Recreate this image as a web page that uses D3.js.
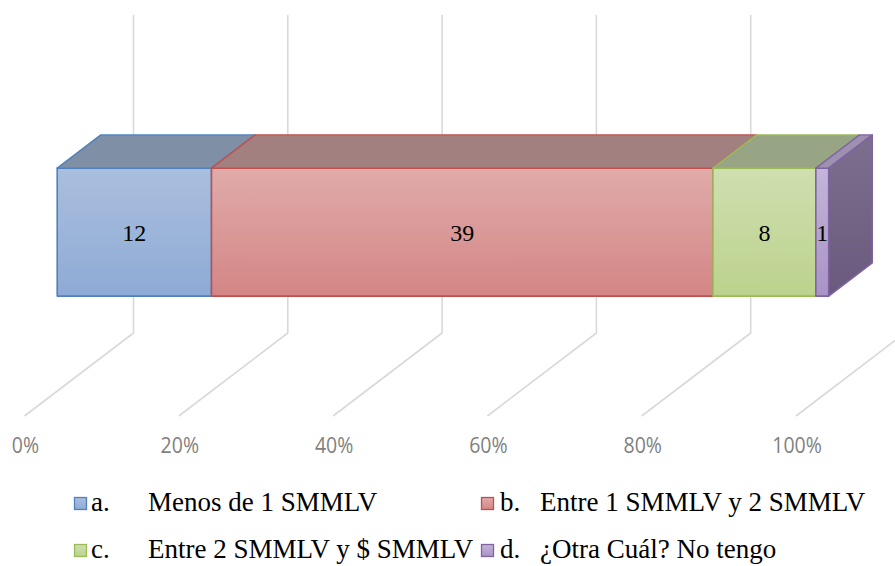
<!DOCTYPE html>
<html>
<head>
<meta charset="utf-8">
<script src="https://cdn.jsdelivr.net/npm/d3@7"></script>
<style>
  html, body { margin: 0; padding: 0; background: #fff; }
  svg { display: block; }
</style>
</head>
<body>
<svg id="chart" width="895" height="566"></svg>
<script>
// Income bracket responses, stacked to 100%
const letters = ["a.", "b.", "c.", "d."];
const categories = ["Menos de 1 SMMLV", "Entre 1 SMMLV y 2 SMMLV", "Entre 2 SMMLV y $ SMMLV", "¿Otra Cuál? No tengo"];
const values = [12, 39, 8, 1];
const tickValues = [0, 0.2, 0.4, 0.6, 0.8, 1];
const tickLabels = ["0%", "20%", "40%", "60%", "80%", "100%"];

const palette = [
  { stroke: "#4f81bd", top: "#aabfde", bottom: "#8eaad5", lid: "#7f8fa5" },
  { stroke: "#c0504d", top: "#e0abaa", bottom: "#d38685", lid: "#a28080" },
  { stroke: "#9bbb59", top: "#cfdfb0", bottom: "#bbd28d", lid: "#97a585" },
  { stroke: "#8064a2", top: "#c3b6d8", bottom: "#a893c6", lid: "#9d90b1", sideTop: "#7c6f8e", sideBottom: "#6a5a7e" }
];

const svg = d3.select("#chart");
const W = 895, H = 566;

// Oblique projection: value along x, height up, depth going back-right
const x = d3.scaleLinear().domain([0, 1]).range([24.5, 796]);
const FLOOR = 416, DX = 109, DY = 83, WALL = 318;
const P = (p, h, d) => [x(p) + d * DX, FLOOR - h - d * DY];

const defs = svg.append("defs");
defs.append("clipPath").attr("id", "clip")
  .append("rect").attr("width", W).attr("height", H);

palette.forEach((c, i) => {
  const g = defs.append("linearGradient").attr("id", "grad" + i)
    .attr("x1", 0).attr("y1", 0).attr("x2", 0).attr("y2", 1);
  g.append("stop").attr("offset", "0%").attr("stop-color", c.top);
  g.append("stop").attr("offset", "100%").attr("stop-color", c.bottom);
});
{
  const c = palette[3];
  const g = defs.append("linearGradient").attr("id", "gradSide")
    .attr("x1", 0).attr("y1", 0).attr("x2", 0).attr("y2", 1);
  g.append("stop").attr("offset", "0%").attr("stop-color", c.sideTop);
  g.append("stop").attr("offset", "100%").attr("stop-color", c.sideBottom);
}

// Gridlines: floor diagonals and back-wall verticals
const line = d3.line();
svg.append("g").attr("clip-path", "url(#clip)")
  .selectAll("path").data(tickValues).join("path")
  .attr("d", t => line([P(t, 0, 0), P(t, 0, 1), P(t, WALL, 1)]))
  .attr("fill", "none").attr("stroke", "#d9d9d9").attr("stroke-width", 1.6);

// Axis labels along the front edge of the floor
svg.append("g").selectAll("text").data(tickValues).join("text")
  .attr("transform", t => `translate(${x(t) + 1},453) scale(1,1.15)`)
  .attr("text-anchor", "middle")
  .attr("font-family", "'Open Sans', sans-serif")
  .attr("font-size", 19.5)
  .attr("fill", "#7f7f7f")
  .text((t, i) => tickLabels[i]);

// Stacked segments
const total = d3.sum(values);
const cum = d3.cumsum(values);
const segs = values.map((v, i) => ({ i, v, p0: (cum[i] - v) / total, p1: cum[i] / total }));

const D0 = 0.3, D1 = 0.7, H0 = 95, H1 = 223;
const poly = pts => "M" + pts.map(p => p.join(",")).join("L") + "Z";

const bars = svg.append("g");
segs.forEach(s => {
  const c = palette[s.i];
  // front face
  bars.append("path")
    .attr("d", poly([P(s.p0, H0, D0), P(s.p1, H0, D0), P(s.p1, H1, D0), P(s.p0, H1, D0)]))
    .attr("fill", `url(#grad${s.i})`).attr("stroke", c.stroke).attr("stroke-width", 1.6)
    .attr("stroke-linejoin", "round");
  // top face
  bars.append("path")
    .attr("d", poly([P(s.p0, H1, D0), P(s.p1, H1, D0), P(s.p1, H1, D1), P(s.p0, H1, D1)]))
    .attr("fill", c.lid).attr("stroke", c.stroke).attr("stroke-width", 1.4)
    .attr("stroke-linejoin", "round");
});
// right end face of the last segment
bars.append("path")
  .attr("d", poly([P(1, H0, D0), P(1, H0, D1), P(1, H1, D1), P(1, H1, D0)]))
  .attr("fill", "url(#gradSide)").attr("stroke", palette[3].stroke).attr("stroke-width", 1.4)
  .attr("stroke-linejoin", "round");

// Value labels
svg.append("g").selectAll("text").data(segs).join("text")
  .attr("x", s => (P(s.p0, 0, D0)[0] + P(s.p1, 0, D0)[0]) / 2)
  .attr("y", P(0, (H0 + H1) / 2, D0)[1] + 1)
  .attr("text-anchor", "middle")
  .attr("dominant-baseline", "central")
  .attr("font-family", "'Liberation Serif', 'Times New Roman', serif")
  .attr("font-size", 24)
  .attr("fill", "#000")
  .text(s => s.v);

// Legend: two rows, two columns
const legend = svg.append("g")
  .attr("font-family", "'Liberation Serif', 'Times New Roman', serif")
  .attr("font-size", 27)
  .attr("fill", "#000");
const rowY = [511, 558];
const cols = [
  { x: 74, letter: 17, label: 74 },
  { x: 481, letter: 19, label: 59 }
];
for (let r = 0; r < 2; r++) {
  for (let c = 0; c < 2; c++) {
    const i = r * 2 + c;
    const col = cols[c];
    const pc = palette[i];
    const g = legend.append("g");
    g.append("rect")
      .attr("x", col.x + 0.5).attr("y", rowY[r] - 13.5)
      .attr("width", 12).attr("height", 12)
      .attr("fill", `url(#grad${i})`).attr("stroke", pc.stroke).attr("stroke-width", 1.3);
    g.append("text").attr("x", col.x + col.letter).attr("y", rowY[r]).text(letters[i]);
    g.append("text").attr("x", col.x + col.label).attr("y", rowY[r]).text(categories[i]);
  }
}
</script>
</body>
</html>
